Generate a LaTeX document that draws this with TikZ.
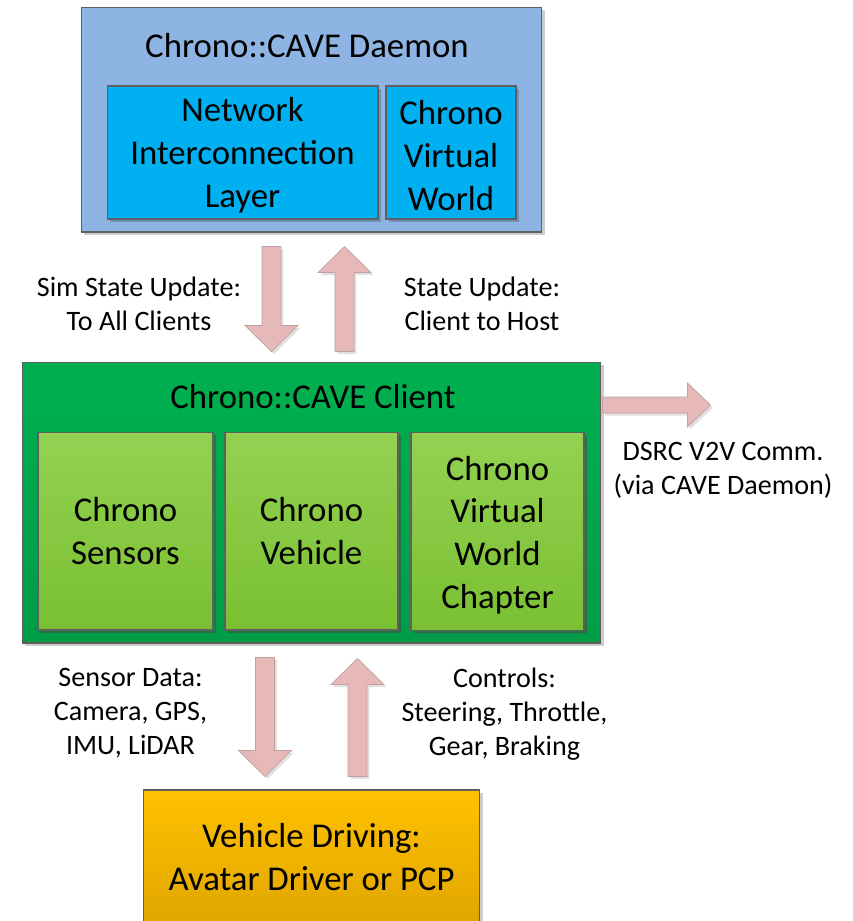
\documentclass[tikz,border=0pt]{standalone}
\usepackage{fontspec}
\setmainfont{Carlito}
\usepackage{tikz}
\usetikzlibrary{calc}
\usetikzlibrary{shadows}
\definecolor{daemonblue}{RGB}{141,180,227}
\definecolor{layerblue}{RGB}{0,176,240}
\definecolor{clientgreen}{RGB}{0,176,80}
\definecolor{clientgreendk}{RGB}{0,156,72}
\definecolor{modgreen}{RGB}{148,209,82}
\definecolor{modgreendk}{RGB}{122,192,50}
\definecolor{driverorange}{RGB}{255,193,0}
\definecolor{driverorangedk}{RGB}{224,166,0}
\definecolor{arrowpink}{RGB}{230,185,184}
\definecolor{arrowedge}{RGB}{190,160,160}
\definecolor{edgegray}{RGB}{95,95,95}
\tikzset{
    box/.style={draw=edgegray,line width=0.6pt,inner sep=0pt,
        drop shadow={shadow xshift=0.06cm,shadow yshift=-0.06cm,opacity=0.2,fill=black}},
    module/.style={box,shade,top color=modgreen,bottom color=modgreendk,
        drop shadow={shadow xshift=0.07cm,shadow yshift=-0.07cm,opacity=0.35,fill=edgegray}},
    maintxt/.style={font=\fontsize{19.8}{24.4}\selectfont,align=center},
    lbltxt/.style={font=\fontsize{16}{19.3}\selectfont,align=center},
    fat shaft/.store in=\shaftw, fat head/.store in=\headw, fat tip/.store in=\headl,
    fat shaft=0.19cm, fat head=0.53cm, fat tip=0.52cm,
    fatarrow/.style={draw=arrowedge,fill=arrowpink,line width=0.4pt,
        drop shadow={shadow xshift=0.05cm,shadow yshift=-0.05cm,opacity=0.12,fill=black},
        to path={let \p1=(\tikztostart),\p2=(\tikztotarget),
            \n1={atan2(\y2-\y1,\x2-\x1)},\n2={veclen(\x2-\x1,\y2-\y1)-\headl} in
            ($(\p1)+({\n1+90}:\shaftw)$) -- ($(\p1)+({\n1}:\n2)+({\n1+90}:\shaftw)$)
            -- ($(\p1)+({\n1}:\n2)+({\n1+90}:\headw)$) -- (\p2)
            -- ($(\p1)+({\n1}:\n2)+({\n1-90}:\headw)$)
            -- ($(\p1)+({\n1}:\n2)+({\n1-90}:\shaftw)$)
            -- ($(\p1)+({\n1-90}:\shaftw)$) -- cycle}}
}
\begin{document}
\begin{tikzpicture}[x=0.02cm,y=-0.02cm]
\useasboundingbox (0,0) rectangle (853,921);
% daemon
\node[box,fill=daemonblue,minimum width=9.22cm,minimum height=4.5cm] (daemon) at (311.5,119.5) {};
\node[maintxt] (daemontitle) at (307,46) {Chrono::CAVE Daemon};
\node[box,fill=layerblue,minimum width=5.42cm,minimum height=2.66cm,maintxt] (netlayer) at (242.5,152.5) {\rule{0pt}{0.85em}Network\\Interconnection\\Layer};
\node[box,fill=layerblue,minimum width=2.6cm,minimum height=2.66cm,maintxt] (dvworld) at (451,152.5) {\rule{0pt}{0.85em}Chrono\\Virtual\\World};
% client
\node[box,shade,top color=clientgreen,bottom color=clientgreendk,minimum width=11.58cm,minimum height=5.62cm] (client) at (311.5,502.5) {};
\node[maintxt] (clienttitle) at (313,396.5) {Chrono::CAVE Client};
\node[module,minimum width=3.5cm,minimum height=3.96cm,maintxt] (sensors) at (125.5,531) {Chrono\\Sensors};
\node[module,minimum width=3.46cm,minimum height=3.96cm,maintxt] (vehicle) at (311.5,531) {Chrono\\Vehicle};
\node[module,minimum width=3.46cm,minimum height=3.96cm,maintxt] (cworld) at (497.5,531.5) {\rule{0pt}{0.9em}Chrono\\Virtual\\World\\Chapter};
% driver
\node[box,shade,top color=driverorange,bottom color=driverorangedk,minimum width=6.74cm,minimum height=2.68cm,maintxt] (driver) at (311.5,857) {Vehicle Driving:\\Avatar Driver or PCP};
% arrow ends
\coordinate (simtop) at ($(daemon.south)+(-40,14)$);
\coordinate (simbot) at ($(client.north)+(-40,-10)$);
\coordinate (upbot) at ($(client.north)+(33,-10)$);
\coordinate (uptop) at ($(daemon.south)+(33,14)$);
\coordinate (dsrcstart) at ($(client.east)+(1,-97.5)$);
\coordinate (dsrcend) at ($(client.east)+(109,-97.5)$);
\coordinate (sentop) at ($(client.south)+(-46.5,14)$);
\coordinate (senbot) at ($(driver.north)+(-46.5,-13)$);
\coordinate (ctrlbot) at ($(driver.north)+(46,-13)$);
\coordinate (ctrltop) at ($(client.south)+(46,15)$);
\draw[fatarrow] (simtop) to (simbot);
\draw[fatarrow] (upbot) to (uptop);
\draw[fatarrow,fat shaft=0.16cm,fat head=0.44cm,fat tip=0.46cm] (dsrcstart) to (dsrcend);
\draw[fatarrow] (sentop) to (senbot);
\draw[fatarrow] (ctrlbot) to (ctrltop);
% labels
\node[lbltxt] (simlbl) at (139,304) {Sim State Update:\\To All Clients};
\node[lbltxt] (statelbl) at (482,304) {State Update:\\Client to Host};
\node[lbltxt] (dsrclbl) at (723,470) {DSRC V2V Comm.\\(via CAVE Daemon)};
\node[lbltxt] (sensorlbl) at (130.5,713.5) {Sensor Data:\\Camera, GPS,\\IMU, LiDAR};
\node[lbltxt] (ctrllbl) at (504.5,714) {Controls:\\Steering, Throttle,\\Gear, Braking};
\end{tikzpicture}
\end{document}
